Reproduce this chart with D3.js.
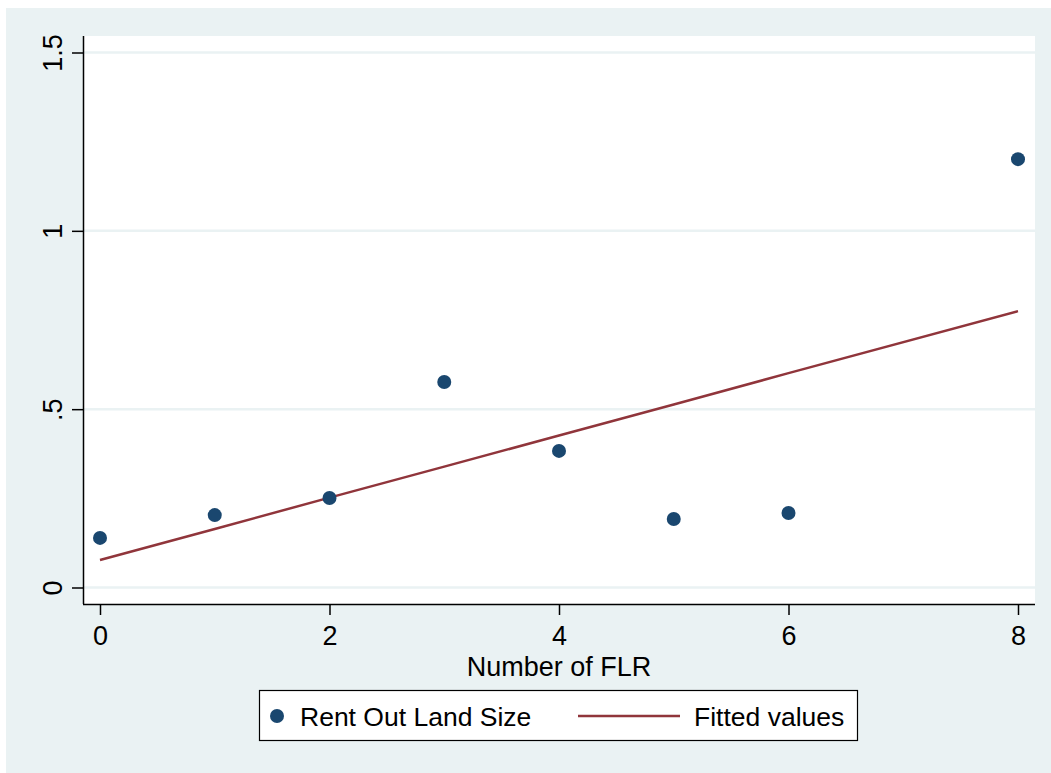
<!DOCTYPE html>
<html>
<head>
<meta charset="utf-8">
<script src="https://cdn.jsdelivr.net/npm/d3@7"></script>
<style>
  html, body { margin: 0; padding: 0; background: #ffffff; }
  svg { display: block; font-family: "Liberation Sans", Arial, Helvetica, sans-serif; }
</style>
</head>
<body>
<svg id="chart" width="1051" height="773"></svg>
<script>
// Data
const flrCount = [0, 1, 2, 3, 4, 5, 6, 8];
const rentOutSize = [0.139, 0.203, 0.251, 0.576, 0.383, 0.192, 0.209, 1.201];
const fittedValues = [0.077, 0.164, 0.252, 0.339, 0.426, 0.513, 0.601, 0.775];
const xTicks = [0, 2, 4, 6, 8];
const yTicks = [0, 0.5, 1, 1.5];
const yTickLabels = ["0", ".5", "1", "1.5"];
const legendLabels = ["Rent Out Land Size", "Fitted values"];

const navy = "#1a476f";
const maroon = "#90353b";
const bgColor = "#eaf2f3";

const svg = d3.select("#chart");

// outer background (Stata s2color)
svg.append("rect")
  .attr("x", 6).attr("y", 8)
  .attr("width", 1045).attr("height", 765)
  .attr("fill", bgColor);

// plot region
const plot = { left: 83, top: 36, right: 1035, bottom: 604 };
svg.append("rect")
  .attr("x", plot.left).attr("y", plot.top)
  .attr("width", plot.right - plot.left).attr("height", plot.bottom - plot.top)
  .attr("fill", "#ffffff");

// scales
const x = d3.scaleLinear().domain([0, 8]).range([100, 1018]);
const y = d3.scaleLinear().domain([0, 1.5]).range([587.5, 52.5]);

// gridlines
svg.append("g")
  .selectAll("line")
  .data(yTicks)
  .join("line")
  .attr("x1", plot.left).attr("x2", plot.right)
  .attr("y1", d => y(d)).attr("y2", d => y(d))
  .attr("stroke", bgColor)
  .attr("stroke-width", 2.5);

// y axis
const yAxis = svg.append("g")
  .attr("transform", `translate(${plot.left},0)`)
  .call(d3.axisLeft(y).tickValues(yTicks)
    .tickFormat((d, i) => yTickLabels[i])
    .tickSize(11).tickPadding(0));
yAxis.attr("font-size", 27).attr("font-family", null);
yAxis.select(".domain")
  .attr("d", `M0.5,${plot.top}V${plot.bottom}`)
  .attr("stroke", "#000").attr("stroke-width", 1.5);
yAxis.selectAll(".tick line").attr("stroke", "#000").attr("stroke-width", 1.5);
yAxis.selectAll(".tick text")
  .attr("x", null).attr("dy", null)
  .attr("transform", "translate(-21,0) rotate(-90)")
  .attr("text-anchor", "middle")
  .attr("fill", "#000");

// x axis
const xAxis = svg.append("g")
  .attr("transform", `translate(0,${plot.bottom})`)
  .call(d3.axisBottom(x).tickValues(xTicks)
    .tickFormat(d3.format("d"))
    .tickSize(11).tickPadding(0));
xAxis.attr("font-size", 27).attr("font-family", null);
xAxis.select(".domain")
  .attr("d", `M${plot.left},0.5H${plot.right}`)
  .attr("stroke", "#000").attr("stroke-width", 1.5);
xAxis.selectAll(".tick line").attr("stroke", "#000").attr("stroke-width", 1.5);
xAxis.selectAll(".tick text")
  .attr("y", 41).attr("dy", null)
  .attr("fill", "#000");

// axis title
svg.append("text")
  .attr("x", 559).attr("y", 676)
  .attr("text-anchor", "middle")
  .attr("font-size", 27)
  .text("Number of FLR");

// fitted line
const line = d3.line()
  .x((d, i) => x(flrCount[i]))
  .y(d => y(d));
svg.append("path")
  .datum(fittedValues)
  .attr("d", line)
  .attr("fill", "none")
  .attr("stroke", maroon)
  .attr("stroke-width", 2.5);

// scatter points
svg.append("g")
  .selectAll("circle")
  .data(rentOutSize)
  .join("circle")
  .attr("cx", (d, i) => x(flrCount[i]))
  .attr("cy", d => y(d))
  .attr("r", 7)
  .attr("fill", navy);

// legend
const legend = svg.append("g");
legend.append("rect")
  .attr("x", 259.5).attr("y", 690.5)
  .attr("width", 598).attr("height", 50)
  .attr("fill", "#fff")
  .attr("stroke", "#000")
  .attr("stroke-width", 1.2);
legend.append("circle")
  .attr("cx", 277).attr("cy", 716).attr("r", 7)
  .attr("fill", navy);
legend.append("text")
  .attr("x", 300).attr("y", 725.5)
  .attr("font-size", 26.5)
  .text(legendLabels[0]);
legend.append("line")
  .attr("x1", 578).attr("x2", 680)
  .attr("y1", 716).attr("y2", 716)
  .attr("stroke", maroon).attr("stroke-width", 2.5);
legend.append("text")
  .attr("x", 694).attr("y", 725.5)
  .attr("font-size", 26.5)
  .text(legendLabels[1]);
</script>
</body>
</html>
